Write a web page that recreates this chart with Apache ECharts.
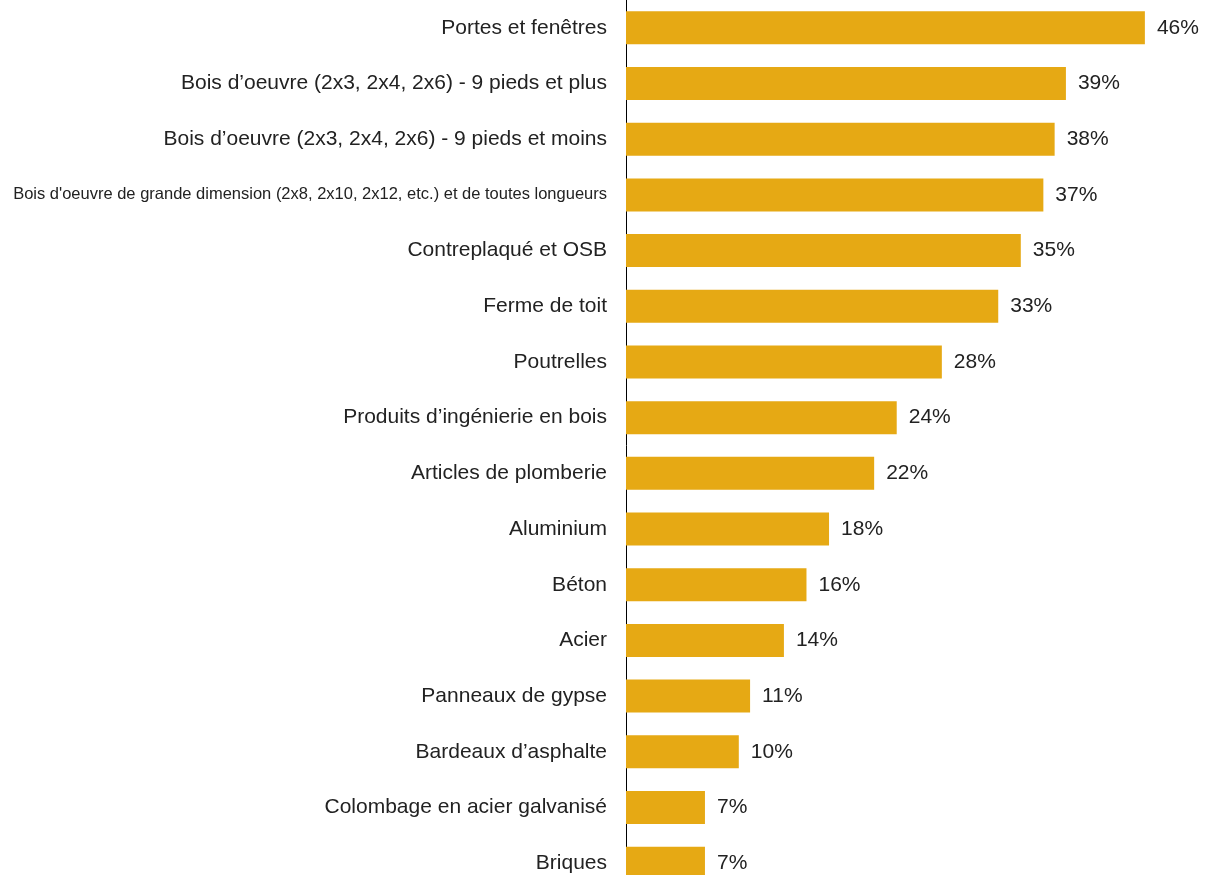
<!DOCTYPE html>
<html>
<head>
<meta charset="utf-8">
<script src="https://cdn.jsdelivr.net/npm/echarts@6/dist/echarts.min.js"></script>
<style>
  html, body { margin: 0; padding: 0; background: #fff; overflow: hidden; }
  /* the last bar runs past the bottom edge of the picture */
  #chart { width: 1205px; height: 891px; }
</style>
</head>
<body>
<div id="chart"></div>
<script>
// categories, top to bottom
let categories = [
  'Portes et fenêtres',
  'Bois d’oeuvre (2x3, 2x4, 2x6) - 9 pieds et plus',
  'Bois d’oeuvre (2x3, 2x4, 2x6) - 9 pieds et moins',
  "Bois d'oeuvre de grande dimension (2x8, 2x10, 2x12, etc.) et de toutes longueurs",
  'Contreplaqué et OSB',
  'Ferme de toit',
  'Poutrelles',
  'Produits d’ingénierie en bois',
  'Articles de plomberie',
  'Aluminium',
  'Béton',
  'Acier',
  'Panneaux de gypse',
  'Bardeaux d’asphalte',
  'Colombage en acier galvanisé',
  'Briques'
]
let values = [46, 39, 38, 37, 35, 33, 28, 24, 22, 18, 16, 14, 11, 10, 7, 7]

let chart = echarts.init(document.getElementById('chart'))

let option = {
  animation: false,
  grid: { left: 626, top: -2, right: 15, bottom: 0 },
  xAxis: {
    type: 'value',
    min: 0,
    max: 50,
    show: false
  },
  yAxis: {
    type: 'category',
    inverse: true,
    data: categories,
    axisLine: { show: true, lineStyle: { color: '#000', width: 1 } },
    axisTick: { show: false },
    axisLabel: {
      margin: 19,
      color: '#222',
      fontFamily: 'Liberation Sans, Arial, sans-serif',
      fontSize: 21,
      formatter: function (v) {
        // the long label is set smaller
        return v.length > 60 ? '{s|' + v + '}' : v
      },
      rich: {
        s: { fontSize: 16.5, color: '#222', fontFamily: 'Liberation Sans, Arial, sans-serif' }
      }
    }
  },
  series: [{
    type: 'bar',
    data: values,
    barWidth: 33,
    itemStyle: { color: '#E6A914' },
    label: {
      show: true,
      position: 'right',
      distance: 12,
      color: '#222',
      fontFamily: 'Liberation Sans, Arial, sans-serif',
      fontSize: 21,
      formatter: '{c}%'
    }
  }]
}

chart.setOption(option)
window.addEventListener('resize', function () { chart.resize() }, false)
</script>
</body>
</html>
